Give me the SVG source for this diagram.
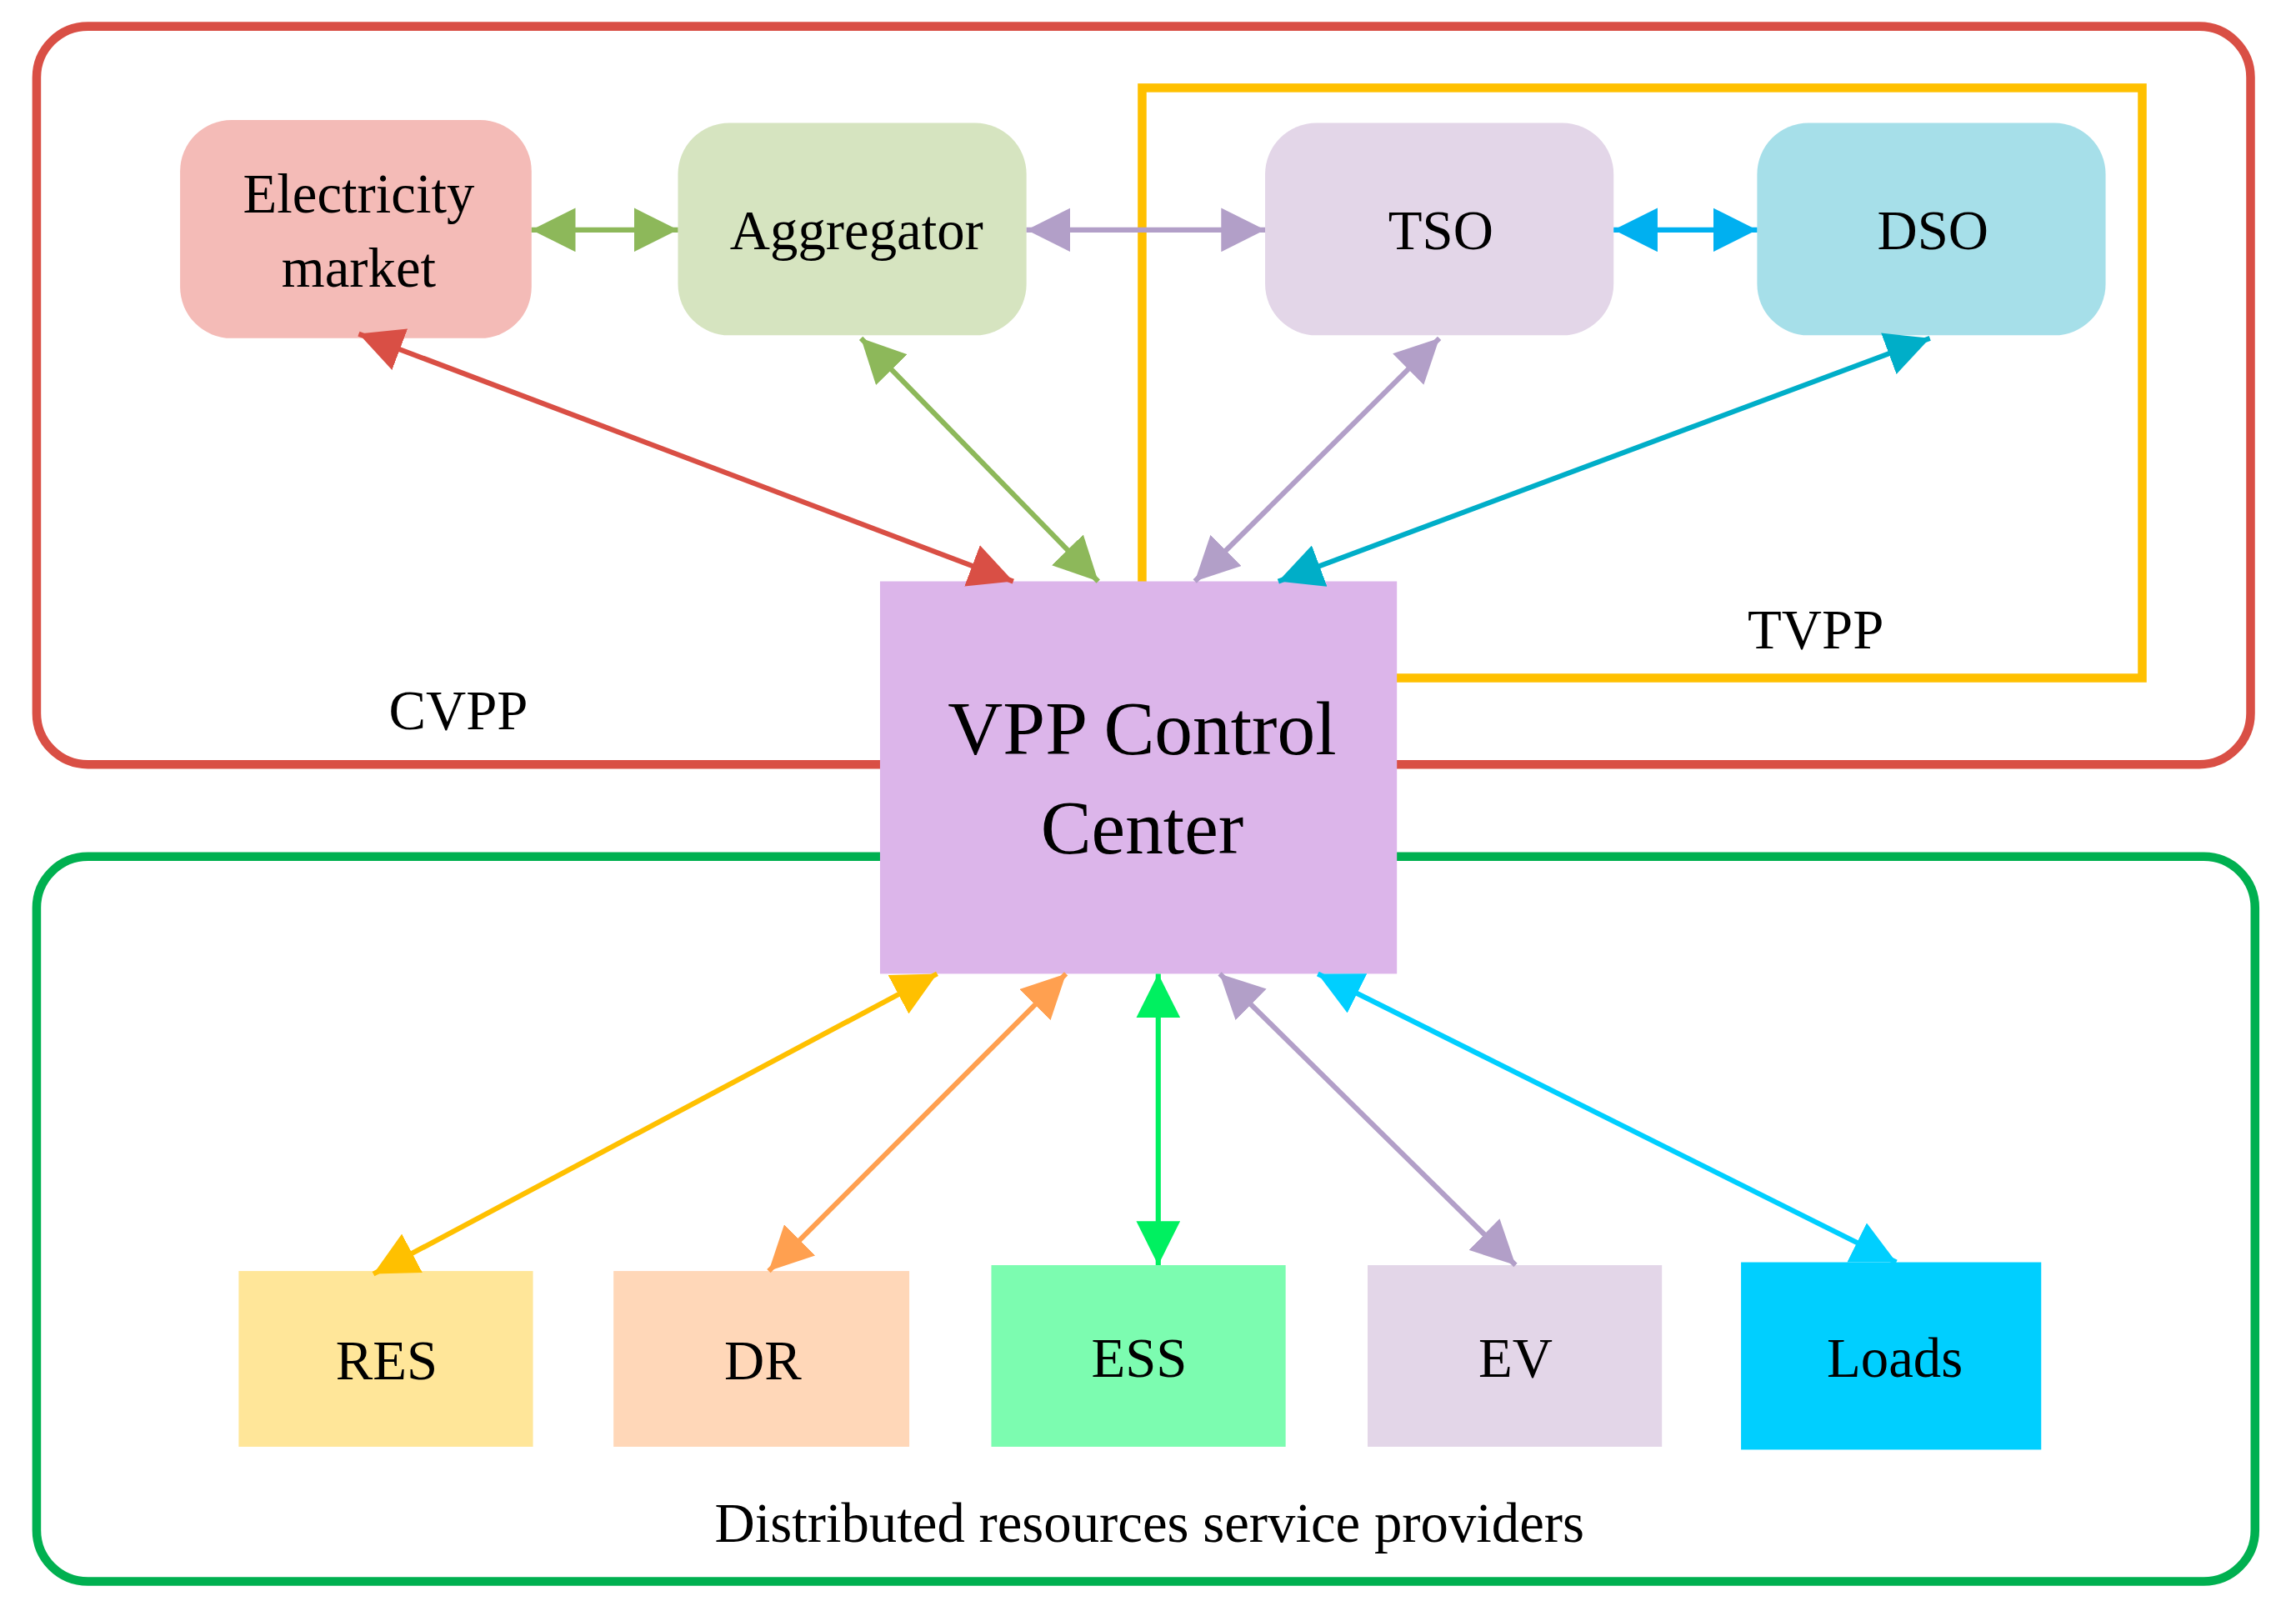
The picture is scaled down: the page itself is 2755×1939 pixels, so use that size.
<svg xmlns="http://www.w3.org/2000/svg" width="2755" height="1939" viewBox="0 0 2755 1939">
<defs>
<style>
text{font-family:"Liberation Serif","Times New Roman",serif;fill:#000;text-anchor:middle}
.t{font-size:38px}
.c{fill:none;stroke-width:3.5}
</style>
<marker id="mR" viewBox="0 0 10 10" refX="10" refY="5" markerWidth="30" markerHeight="30" markerUnits="userSpaceOnUse" orient="auto-start-reverse"><path d="M0,0L10,5L0,10z" fill="#d94f45"/></marker>
<marker id="mG" viewBox="0 0 10 10" refX="10" refY="5" markerWidth="30" markerHeight="30" markerUnits="userSpaceOnUse" orient="auto-start-reverse"><path d="M0,0L10,5L0,10z" fill="#8db85a"/></marker>
<marker id="mP" viewBox="0 0 10 10" refX="10" refY="5" markerWidth="30" markerHeight="30" markerUnits="userSpaceOnUse" orient="auto-start-reverse"><path d="M0,0L10,5L0,10z" fill="#b29fc8"/></marker>
<marker id="mB" viewBox="0 0 10 10" refX="10" refY="5" markerWidth="30" markerHeight="30" markerUnits="userSpaceOnUse" orient="auto-start-reverse"><path d="M0,0L10,5L0,10z" fill="#00b0f0"/></marker>
<marker id="mT" viewBox="0 0 10 10" refX="10" refY="5" markerWidth="30" markerHeight="30" markerUnits="userSpaceOnUse" orient="auto-start-reverse"><path d="M0,0L10,5L0,10z" fill="#00aec8"/></marker>
<marker id="mY" viewBox="0 0 10 10" refX="10" refY="5" markerWidth="30" markerHeight="30" markerUnits="userSpaceOnUse" orient="auto-start-reverse"><path d="M0,0L10,5L0,10z" fill="#ffc000"/></marker>
<marker id="mO" viewBox="0 0 10 10" refX="10" refY="5" markerWidth="30" markerHeight="30" markerUnits="userSpaceOnUse" orient="auto-start-reverse"><path d="M0,0L10,5L0,10z" fill="#ffa050"/></marker>
<marker id="mE" viewBox="0 0 10 10" refX="10" refY="5" markerWidth="30" markerHeight="30" markerUnits="userSpaceOnUse" orient="auto-start-reverse"><path d="M0,0L10,5L0,10z" fill="#00f060"/></marker>
<marker id="mC" viewBox="0 0 10 10" refX="10" refY="5" markerWidth="30" markerHeight="30" markerUnits="userSpaceOnUse" orient="auto-start-reverse"><path d="M0,0L10,5L0,10z" fill="#00cfff"/></marker>
</defs>
<rect width="2755" height="1939" fill="#fff"/>
<g transform="scale(1.757)">
<g id="cvpp"><rect x="25" y="18" width="1512" height="504" rx="35" fill="none" stroke="#d94f45" stroke-width="6"/><text class="t" x="313" y="498">CVPP</text></g>
<g id="tvpp"><rect x="780" y="60" width="683" height="403" fill="none" stroke="#ffc000" stroke-width="6"/><text class="t" x="1240" y="443">TVPP</text></g>
<g id="drsp"><rect x="25" y="585" width="1515" height="495" rx="35" fill="none" stroke="#00b050" stroke-width="6"/><text class="t" x="785" y="1053">Distributed resources service providers</text></g>
<g id="em"><rect x="123" y="82" width="240" height="149" rx="35" fill="#f4bbb7"/><text class="t" x="245" y="145">Electricity</text><text class="t" x="245" y="196">market</text></g>
<g id="agg"><rect x="463" y="84" width="238" height="145" rx="35" fill="#d6e4c0"/><text class="t" x="585" y="170">Aggregator</text></g>
<g id="tso"><rect x="864" y="84" width="238" height="145" rx="35" fill="#e3d6e8"/><text class="t" x="984" y="170">TSO</text></g>
<g id="dso"><rect x="1200" y="84" width="238" height="145" rx="35" fill="#a6dfe9"/><text class="t" x="1320" y="170">DSO</text></g>
<g id="vpp"><rect x="601" y="397" width="353" height="268" fill="#dcb5ea"/><text x="780" y="515" font-size="52">VPP Control</text><text x="780" y="583" font-size="52">Center</text></g>
<g id="res"><rect x="163" y="868" width="201" height="120" fill="#ffe699"/><text class="t" x="264" y="942">RES</text></g>
<g id="dr"><rect x="419" y="868" width="202" height="120" fill="#ffd7b8"/><text class="t" x="521" y="942">DR</text></g>
<g id="ess"><rect x="677" y="864" width="201" height="124" fill="#7cfcb0"/><text class="t" x="778" y="940">ESS</text></g>
<g id="ev"><rect x="934" y="864" width="201" height="124" fill="#e3d6e8"/><text class="t" x="1035" y="940">EV</text></g>
<g id="loads"><rect x="1189" y="862" width="205" height="128" fill="#00cfff"/><text class="t" x="1294" y="940">Loads</text></g>
<g id="connectors">
<line class="c" x1="363" y1="157" x2="463" y2="157" stroke="#8db85a" marker-start="url(#mG)" marker-end="url(#mG)"/>
<line class="c" x1="701" y1="157" x2="864" y2="157" stroke="#b29fc8" marker-start="url(#mP)" marker-end="url(#mP)"/>
<line class="c" x1="1102" y1="157" x2="1200" y2="157" stroke="#00b0f0" marker-start="url(#mB)" marker-end="url(#mB)"/>
<line class="c" x1="245" y1="228" x2="692" y2="397" stroke="#d94f45" marker-start="url(#mR)" marker-end="url(#mR)"/>
<line class="c" x1="588" y1="231" x2="750" y2="397" stroke="#8db85a" marker-start="url(#mG)" marker-end="url(#mG)"/>
<line class="c" x1="983" y1="231" x2="816" y2="397" stroke="#b29fc8" marker-start="url(#mP)" marker-end="url(#mP)"/>
<line class="c" x1="1318" y1="231" x2="873" y2="397" stroke="#00aec8" marker-start="url(#mT)" marker-end="url(#mT)"/>
<line class="c" x1="640" y1="665" x2="255" y2="870" stroke="#ffc000" marker-start="url(#mY)" marker-end="url(#mY)"/>
<line class="c" x1="728" y1="665" x2="525" y2="868" stroke="#ffa050" marker-start="url(#mO)" marker-end="url(#mO)"/>
<line class="c" x1="791" y1="665" x2="791" y2="864" stroke="#00f060" marker-start="url(#mE)" marker-end="url(#mE)"/>
<line class="c" x1="833" y1="665" x2="1035" y2="864" stroke="#b29fc8" marker-start="url(#mP)" marker-end="url(#mP)"/>
<line class="c" x1="900" y1="665" x2="1295" y2="862" stroke="#00cfff" marker-start="url(#mC)" marker-end="url(#mC)"/>
</g>
</g>
</svg>
